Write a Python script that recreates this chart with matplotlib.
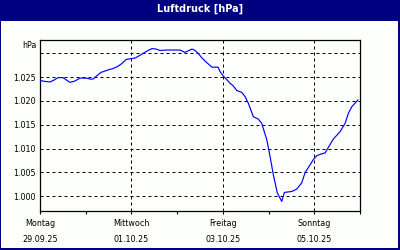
import matplotlib
matplotlib.use("Agg")
import matplotlib.pyplot as plt
from matplotlib.patches import Rectangle
from matplotlib.ticker import FixedLocator, FuncFormatter

# Luftdruck, Stunden seit Mo 29.09.25 00:00
hours = [0, 2.6, 5.3, 7.4, 9.5, 12.1, 14.2, 15.8, 18.4, 21.0, 24.2, 26.3, 27.8,
         29.9, 32.0, 35.7, 38.3, 41.0, 43.1, 45.2, 47.8, 49.9, 52.5, 54.6, 56.7,
         58.8, 60.9, 63.0, 66.7, 70.4, 73.5, 76.1, 78.2, 79.8, 81.4, 83.0, 85.1,
         87.7, 90.3, 93.5, 94.5, 96.1, 98.7, 99.8, 101.4, 103.3, 105.9, 107.7,
         109.4, 112.0, 114.6, 116.4, 119.1, 120.8, 122.5, 124.6, 126.9, 128.3,
         132.2, 134.8, 137.4, 139.2, 141.8, 143.5, 145.3, 147.1, 149.7, 151.9,
         154.0, 157.6, 160.2, 161.9, 163.7, 166.9]
pressure = [1024.3, 1024.1, 1024.0, 1024.4, 1024.9, 1024.9, 1024.3, 1023.9,
            1024.2, 1024.8, 1024.8, 1024.6, 1024.6, 1025.3, 1026.0, 1026.5,
            1026.8, 1027.3, 1027.9, 1028.7, 1028.9, 1029.0, 1029.6, 1030.1,
            1030.6, 1031.0, 1030.9, 1030.6, 1030.7, 1030.7, 1030.7, 1030.2,
            1030.6, 1030.9, 1030.6, 1030.0, 1029.0, 1028.0, 1027.1, 1027.1,
            1026.2, 1025.3, 1024.2, 1023.7, 1023.2, 1022.2, 1021.8, 1020.9,
            1019.5, 1016.7, 1016.2, 1015.3, 1011.8, 1008.3, 1004.5, 1000.7,
            998.9, 1000.8, 1001.0, 1001.5, 1002.8, 1005.0, 1006.6, 1007.7,
            1008.5, 1008.8, 1009.1, 1010.6, 1012.0, 1013.6, 1015.3, 1017.4,
            1018.8, 1020.2]

day_names = ["Montag", "", "Mittwoch", "", "Freitag", "", "Sonntag", ""]
day_dates = ["29.09.25", "", "01.10.25", "", "03.10.25", "", "05.10.25", ""]
y_ticks = [1000, 1005, 1010, 1015, 1020, 1025, 1030]

navy = "#000080"
bg = "#fcfffc"

fig = plt.figure(figsize=(4, 2.5), dpi=100, facecolor=navy)
# weisser Innenbereich unter der Titelleiste
fig.patches.append(Rectangle((1 / 400, 2 / 250), 397 / 400, 227 / 250,
                             transform=fig.transFigure, facecolor=bg,
                             edgecolor="none", zorder=-10))
fig.text(0.5, 1 - 9 / 250, "Luftdruck [hPa]", color="white", fontsize=7,
         fontweight="bold", ha="center", va="center")

ax = fig.add_axes([40 / 400, 1 - 211 / 250, 320 / 400, 171 / 250])
ax.set_zorder(5)
ax.set_facecolor(bg)
ax.plot(hours, pressure, color="#0000ff", lw=0.85, zorder=3)

ax.set_xlim(0, 168)
ax.set_ylim(996.9, 1032.8)

ax.xaxis.set_major_locator(FixedLocator([d * 24 for d in range(8)]))
ax.set_xticklabels([f"{n}\n{d}" if n else "" for n, d in zip(day_names, day_dates)],
                   fontsize=5.8, linespacing=2.0)
ax.yaxis.set_major_locator(FixedLocator(y_ticks))
ax.yaxis.set_major_formatter(FuncFormatter(lambda v, p: "" if v > 1027 else f"{v / 1000:.3f}"))
ax.tick_params(axis="x", direction="out", length=2.5, width=0.8, pad=3.5, colors="black")
ax.tick_params(axis="y", length=0, pad=3, labelsize=5.8)

for y in y_ticks:
    ax.axhline(y, color="black", lw=0.72, ls=(0, (3, 3)), zorder=1)
for d in (2, 4, 6):
    ax.axvline(d * 24, color="black", lw=0.72, ls=(0, (3, 3)), zorder=1)

for s in ax.spines.values():
    s.set_color("black")
    s.set_linewidth(0.9)

fig.text(37 / 400, 1 - 45.5 / 250, "hPa", fontsize=5.8, ha="right", va="center")

fig.savefig("out.png", dpi=100, facecolor=navy)
